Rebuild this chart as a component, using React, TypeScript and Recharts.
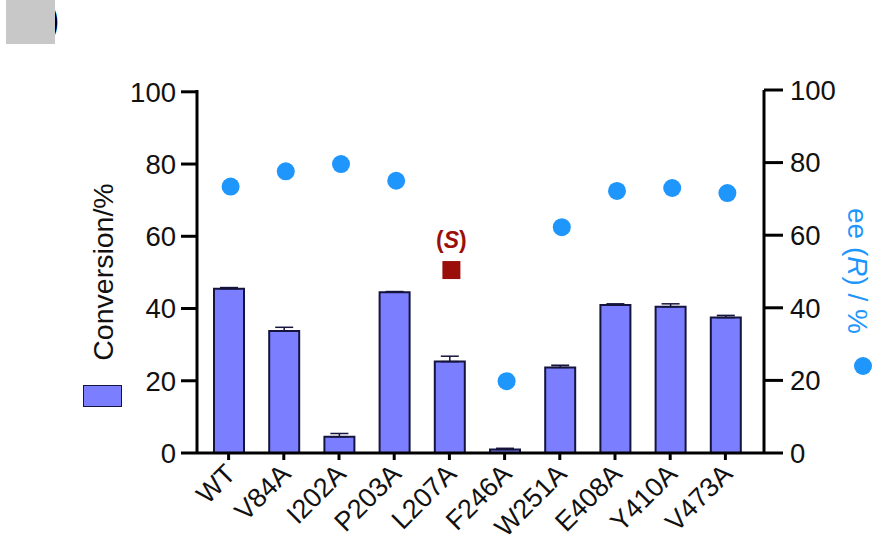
import { Bar, ComposedChart, ErrorBar, Line, XAxis, YAxis } from 'recharts';

const categories = ['WT', 'V84A', 'I202A', 'P203A', 'L207A', 'F246A', 'W251A', 'E408A', 'Y410A', 'V473A'];
const conversion = [45.5, 33.8, 4.5, 44.5, 25.3, 1, 23.7, 41, 40.5, 37.5];
const conversionErr = [0.3, 1, 0.9, 0.2, 1.5, 0.3, 0.6, 0.3, 0.8, 0.6];
const eeR = [73.4, 77.6, 79.6, 75, null, 19.8, 62.2, 72.2, 73, 71.6];
const eeS = [null, null, null, null, 50.4, null, null, null, null, null];
const yTicks = [0, 20, 40, 60, 80, 100];

const BLUE = '#1E96FC';
const RED = '#9B0F0A';
const FILL = '#7B7FFF';
const EDGE = '#14143C';
const FONT = '"Liberation Sans", Arial, sans-serif';

const data = categories.map((name, i) => ({
  name,
  conversion: conversion[i],
  err: [0, conversionErr[i]],
  eeR: eeR[i],
  eeS: eeS[i],
}));

const tickStyle = { fontSize: 27.5, fill: '#111', fontFamily: FONT };

function RoundDot({ cx, cy, value }: any) {
  if (value == null) return null;
  return <circle cx={cx} cy={cy} r={9} fill={BLUE} />;
}

function SquareDot({ cx, cy, value }: any) {
  if (value == null) return null;
  return (
    <g>
      <rect x={cx - 9} y={cy - 9} width={18} height={18} fill={RED} />
      <text x={cx} y={cy - 22} textAnchor="middle" fontSize={23} fontWeight="bold" fontFamily={FONT} fill={RED}>
        (<tspan fontStyle="italic">S</tspan>)
      </text>
    </g>
  );
}

export default function App() {
  return (
    <div style={{ position: 'fixed', left: 0, top: 0, width: 874, height: 538, background: '#fff', overflow: 'hidden', fontFamily: FONT }}>
      {/* panel letter hidden by a grey box */}
      <div style={{ position: 'absolute', left: 47, top: 0, fontSize: 36, lineHeight: '40px', fontWeight: 'bold', color: '#000' }}>)</div>
      <div style={{ position: 'absolute', left: 6, top: 0, width: 49, height: 44, background: '#C8C8C8' }} />

      <ComposedChart width={874} height={538} data={data} margin={{ top: 90, right: 0, bottom: 0, left: 0 }} style={{ position: 'absolute', left: 0, top: 0 }}>
        <XAxis
          dataKey="name"
          height={85}
          padding={{ left: 4, right: 11 }}
          interval={0}
          angle={-45}
          textAnchor="end"
          tick={{ fontSize: 27, fill: '#111', fontFamily: FONT, dx: -5, dy: 1 }}
          tickSize={7}
          tickMargin={1}
          axisLine={{ stroke: '#000', strokeWidth: 3 }}
          tickLine={{ stroke: '#000', strokeWidth: 3 }}
        />
        {/* the dots sit a little right of the bars in the original */}
        <XAxis xAxisId="dots" dataKey="name" hide padding={{ left: 6, right: 9 }} />
        <YAxis
          yAxisId="left"
          width={197}
          domain={[0, 100.5]}
          ticks={yTicks}
          tick={tickStyle}
          tickSize={16}
          tickMargin={5}
          axisLine={{ stroke: '#000', strokeWidth: 3 }}
          tickLine={{ stroke: '#000', strokeWidth: 3 }}
        />
        <YAxis
          yAxisId="right"
          orientation="right"
          width={110}
          domain={[0, 100]}
          ticks={yTicks}
          tick={tickStyle}
          tickSize={19}
          tickMargin={7}
          axisLine={{ stroke: '#000', strokeWidth: 3 }}
          tickLine={{ stroke: '#000', strokeWidth: 3 }}
        />
        <Bar yAxisId="left" dataKey="conversion" barSize={30} fill={FILL} stroke={EDGE} strokeWidth={2} isAnimationActive={false}>
          <ErrorBar dataKey="err" direction="y" width={9} stroke={EDGE} strokeWidth={1.5} isAnimationActive={false} />
        </Bar>
        <Line xAxisId="dots" yAxisId="right" dataKey="eeR" stroke="none" dot={<RoundDot />} activeDot={false} isAnimationActive={false} />
        <Line xAxisId="dots" yAxisId="right" dataKey="eeS" stroke="none" dot={<SquareDot />} activeDot={false} isAnimationActive={false} />
      </ComposedChart>

      {/* left axis title and legend swatch */}
      <div style={{ position: 'absolute', left: 103, top: 272, transform: 'translate(-50%, -50%) rotate(-90deg)', fontSize: 28.5, color: '#111', whiteSpace: 'nowrap' }}>
        Conversion/%
      </div>
      <div style={{ position: 'absolute', left: 83, top: 385, width: 37, height: 20, background: FILL, border: `1.5px solid ${EDGE}` }} />

      {/* right axis title and legend dot */}
      <div style={{ position: 'absolute', left: 857, top: 271, transform: 'translate(-50%, -50%) rotate(90deg)', fontSize: 28, color: BLUE, whiteSpace: 'nowrap' }}>
        ee (<i>R</i>) / %
      </div>
      <div style={{ position: 'absolute', left: 854, top: 357, width: 18, height: 18, borderRadius: '50%', background: BLUE }} />
    </div>
  );
}
